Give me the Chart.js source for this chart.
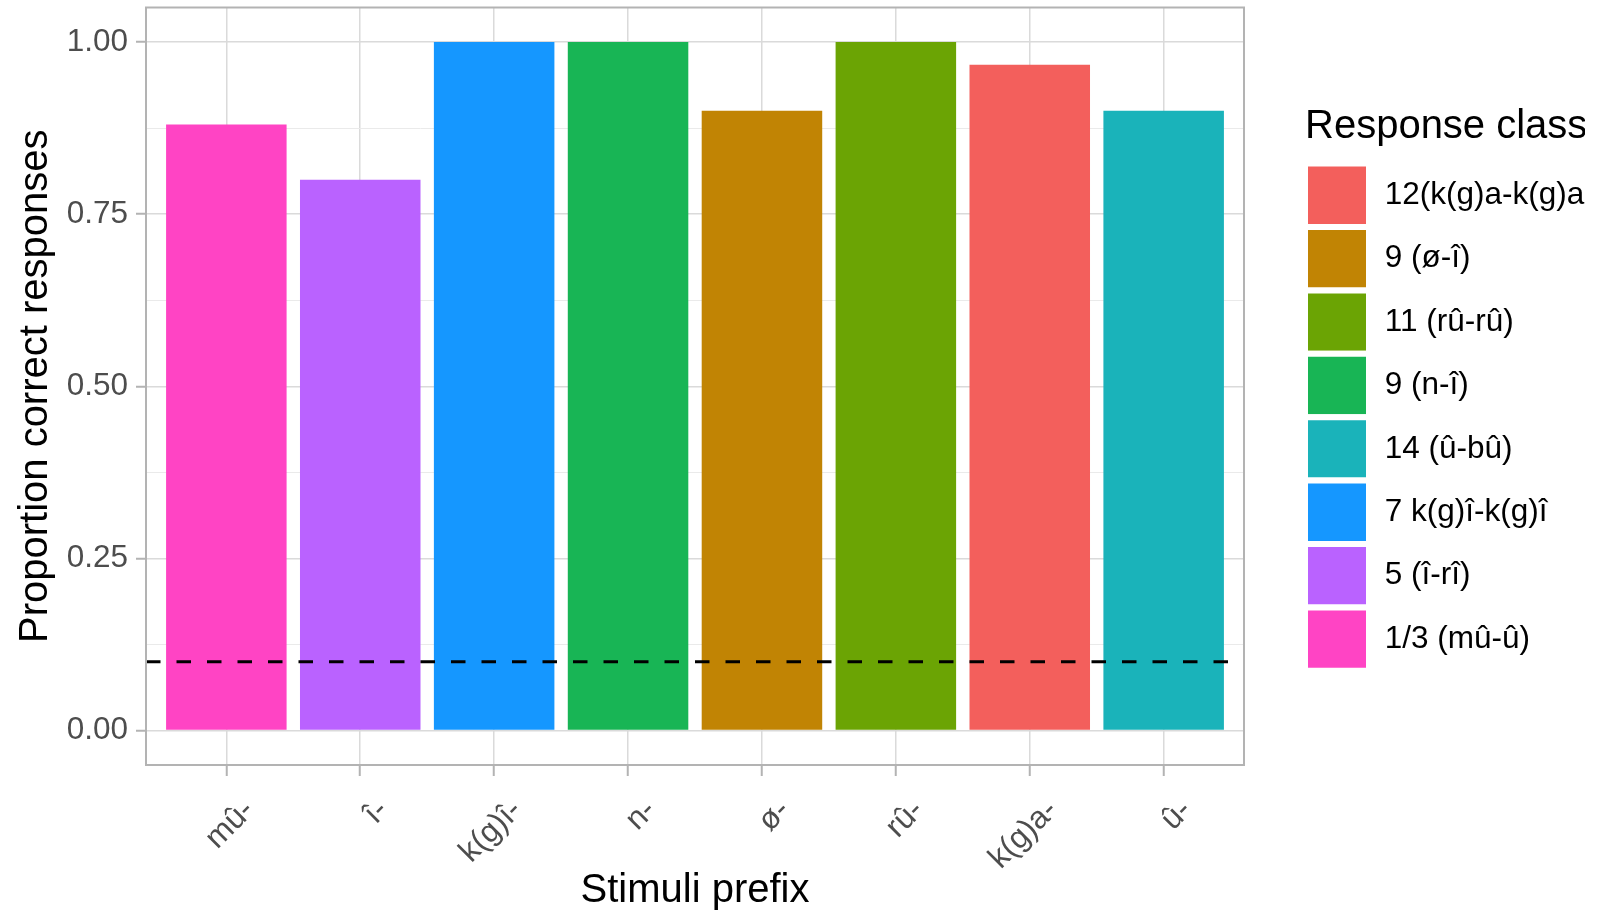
<!DOCTYPE html>
<html>
<head>
<meta charset="utf-8">
<script src="https://cdn.jsdelivr.net/npm/chart.js@4.4.1/dist/chart.umd.min.js"></script>
<style>
  html, body { margin: 0; padding: 0; background: #ffffff; }
  #wrap { width: 1616px; height: 912px; }
</style>
</head>
<body>
<div id="wrap"><canvas id="c" width="1616" height="912"></canvas></div>
<script>
// ---- data ----
const categories = ['mû-', 'î-', 'k(g)î-', 'n-', 'ø-', 'rû-', 'k(g)a-', 'û-'];
const proportions = [0.88, 0.80, 1.00, 1.00, 0.90, 1.00, 0.967, 0.90];
const responseClassOfCategory = ['1/3 (mû-û)', '5 (î-rî)', '7 k(g)î-k(g)î', '9 (n-î)', '9 (ø-î)', '11 (rû-rû)', '12(k(g)a-k(g)a', '14 (û-bû)'];
const legendClasses = ['12(k(g)a-k(g)a', '9 (ø-î)', '11 (rû-rû)', '9 (n-î)', '14 (û-bû)', '7 k(g)î-k(g)î', '5 (î-rî)', '1/3 (mû-û)'];
const legendColors = ['#F35F5C', '#C18404', '#6BA404', '#18B555', '#1AB3BA', '#1597FF', '#BA62FF', '#FF44C4'];
const yTickValues = [0, 0.125, 0.25, 0.375, 0.5, 0.625, 0.75, 0.875, 1.0];
const chanceLevel = 0.10;

const classColor = {};
legendClasses.forEach((c, i) => { classColor[c] = legendColors[i]; });
const barColors = responseClassOfCategory.map(c => classColor[c]);

const FONT = '"Liberation Sans", Arial, Helvetica, sans-serif';
Chart.defaults.font.family = FONT;

const isMajor = v => Math.abs(v * 4 - Math.round(v * 4)) < 1e-9;

const hlinePlugin = {
  id: 'hline',
  afterDatasetsDraw(chart) {
    const {ctx, chartArea, scales} = chart;
    const y = scales.y.getPixelForValue(chanceLevel);
    ctx.save();
    ctx.beginPath();
    ctx.setLineDash([14.5, 16]);
    ctx.lineWidth = 3;
    ctx.strokeStyle = '#000000';
    ctx.moveTo(chartArea.left, y);
    ctx.lineTo(chartArea.right, y);
    ctx.stroke();
    ctx.restore();
    // panel border
    ctx.save();
    ctx.strokeStyle = '#b3b3b3';
    ctx.lineWidth = 2;
    ctx.strokeRect(chartArea.left, chartArea.top, chartArea.right - chartArea.left, chartArea.bottom - chartArea.top);
    ctx.restore();
  }
};

new Chart(document.getElementById('c'), {
  type: 'bar',
  data: {
    datasets: [{
      label: 'Proportion correct responses',
      data: proportions.map((v, i) => ({x: i + 1, y: v})),
      backgroundColor: barColors,
      borderWidth: 0,
      barPercentage: 0.9,
      categoryPercentage: 1.0
    }]
  },
  options: {
    responsive: false,
    animation: false,
    layout: { padding: { top: 7.5, right: 31, bottom: 0, left: 0 } },
    scales: {
      x: {
        type: 'linear',
        min: 0.4,
        max: 8.6,
        offset: false,
        afterBuildTicks: s => { s.ticks = categories.map((_, i) => ({value: i + 1})); },
        afterFit: s => { s.height = 147; s.paddingLeft = 0; s.paddingRight = 0; },
        grid: { offset: false, color: '#dadada', lineWidth: 1.5, drawTicks: true, tickLength: 11, tickColor: '#b3b3b3', tickWidth: 2 },
        border: { display: false },
        ticks: {
          autoSkip: false,
          maxRotation: 45,
          minRotation: 45,
          padding: 16,
          labelOffset: 23,
          color: '#4d4d4d',
          font: { size: 31.5 },
          callback: (v, i) => categories[i]
        },
        title: { display: true, text: 'Stimuli prefix', color: '#000000', font: { size: 40, lineHeight: 1.0 }, padding: { top: 0, bottom: 1 } }
      },
      y: {
        type: 'linear',
        min: -0.05,
        max: 1.05,
        afterBuildTicks: s => { s.ticks = yTickValues.map(v => ({value: v})); },
        afterFit: s => { s.width = 146; s.paddingTop = 0; s.paddingBottom = 0; },
        grid: {
          color: c => (c.tick && isMajor(c.tick.value)) ? '#dadada' : '#eaeaea',
          lineWidth: c => (c.tick && isMajor(c.tick.value)) ? 1.5 : 1,
          drawTicks: true,
          tickLength: 10,
          tickColor: c => (c.tick && isMajor(c.tick.value)) ? '#b3b3b3' : 'rgba(0,0,0,0)',
          tickWidth: 2
        },
        border: { display: false },
        ticks: {
          autoSkip: false,
          padding: 8,
          color: '#4d4d4d',
          font: { size: 31.5 },
          callback: v => isMajor(v) ? v.toFixed(2) : ''
        },
        title: { display: true, text: 'Proportion correct responses', color: '#000000', font: { size: 40 }, padding: { top: 11.5, bottom: 0 } }
      },
      spacer: {
        type: 'linear',
        position: 'right',
        display: true,
        grid: { display: false, drawTicks: false },
        border: { display: false },
        ticks: { display: false },
        afterFit: s => { s.width = 61; s.paddingTop = 0; s.paddingBottom = 0; }
      }
    },
    plugins: {
      tooltip: { enabled: false },
      legend: {
        display: true,
        position: 'right',
        align: 'start',
        maxWidth: 280,
        onClick: null,
        title: {
          display: true,
          text: 'Response class',
          position: 'start',
          color: '#000000',
          font: { size: 40 },
          padding: { top: 99.6, bottom: 8.5 }
        },
        labels: {
          boxWidth: 64,
          boxHeight: 63.4,
          padding: 0,
          color: '#000000',
          font: { size: 31.5 },
          generateLabels: () => legendClasses.map((c, i) => ({
            text: c,
            fillStyle: legendColors[i],
            strokeStyle: '#ffffff',
            lineWidth: 6,
            hidden: false,
            datasetIndex: 0
          }))
        }
      }
    }
  },
  plugins: [hlinePlugin]
});
</script>
</body>
</html>
